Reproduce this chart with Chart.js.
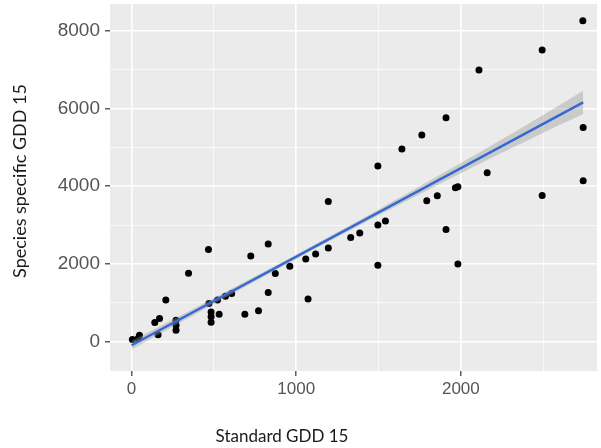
<!DOCTYPE html>
<html>
<head>
<meta charset="utf-8">
<script src="https://cdn.jsdelivr.net/npm/chart.js@4"></script>
<style>
  body { margin: 0; background: #fff; }
</style>
</head>
<body>
<canvas id="gdd-chart" width="601" height="448"></canvas>
<script>
// observations: standard GDD 15 vs species specific GDD 15
const standardGdd = [2741, 2494, 2110, 2743, 1910, 1763, 1642, 1496, 2160, 2743, 2494, 1967, 1982, 1857, 1793,
  1331, 1386, 1496, 1542, 1910, 1496, 1982, 1195, 1195, 1118, 1058, 961, 873, 830, 724, 830, 1072, 771, 688,
  467, 346, 208, 170, 141, 161, 270, 270, 270, 48, 40, 5, 470, 522, 570, 608, 483, 483, 483, 532];
const speciesGdd = [8263, 7508, 6992, 5515, 5763, 5317, 4956, 4518, 4345, 4139, 3763, 3959, 3985, 3753, 3625,
  2680, 2799, 3005, 3108, 2887, 1966, 2000, 3607, 2410, 2258, 2129, 1941, 1752, 2515, 2202, 1263, 1098, 794, 704,
  2371, 1760, 1068, 593, 490, 175, 549, 420, 291, 162, 77, 52, 983, 1073, 1167, 1237, 763, 640, 495, 704];

// fitted line and its confidence band
const fitX = [0, 2743];
const fitY = [-95, 6160];
const bandX = [0, 500, 1000, 1500, 2000, 2500, 2743];
const bandLow = [-205, 965, 2125, 3251, 4336, 5376, 5860];
const bandHigh = [15, 1125, 2245, 3401, 4596, 5836, 6460];

// grid / tick positions
const xGrid = [0, 500, 1000, 1500, 2000, 2500];
const xMajor = [0, 1000, 2000];
const yGrid = [0, 1000, 2000, 3000, 4000, 5000, 6000, 7000, 8000];
const yMajor = [0, 2000, 4000, 6000, 8000];

const toPoints = (xs, ys) => xs.map((x, i) => ({ x: x, y: ys[i] }));

const panelBg = {
  id: 'panelBg',
  beforeDraw(chart) {
    const a = chart.chartArea;
    const c = chart.ctx;
    c.save();
    c.fillStyle = '#ebebeb';
    c.fillRect(a.left, a.top, a.right - a.left, a.bottom - a.top);
    c.restore();
  }
};

// axis titles sit a bit off the panel centre in the original
const axisTitles = {
  id: 'axisTitles',
  afterDraw(chart) {
    const c = chart.ctx;
    c.save();
    c.fillStyle = '#1a1a1a';
    c.textAlign = 'center';
    c.textBaseline = 'middle';
    c.font = '17px Lato';
    c.fillText('Standard GDD 15', 282, 437);
    c.font = '18px Lato';
    c.translate(20, 181);
    c.rotate(-Math.PI / 2);
    c.fillText('Species specific GDD 15', 0, 0);
    c.restore();
  }
};

function gridStyle(major) {
  return {
    color: '#ffffff',
    lineWidth: ctx => major.includes(ctx.tick.value) ? 1.6 : 0.7,
    tickColor: ctx => major.includes(ctx.tick.value) ? '#333333' : 'rgba(0,0,0,0)',
    tickWidth: 1.2,
    tickLength: 5,
    drawTicks: true
  };
}

function noPad(s) {
  s.paddingTop = 0;
  s.paddingBottom = 0;
  s.paddingLeft = 0;
  s.paddingRight = 0;
}

new Chart(document.getElementById('gdd-chart').getContext('2d'), {
  type: 'scatter',
  data: {
    datasets: [
      {
        label: 'fit',
        data: toPoints(fitX, fitY),
        showLine: true,
        borderColor: '#3568d0',
        borderWidth: 2.5,
        pointRadius: 0,
        fill: false
      },
      {
        label: 'band upper',
        data: toPoints(bandX, bandHigh),
        showLine: true,
        borderWidth: 0,
        borderColor: 'rgba(0,0,0,0)',
        backgroundColor: 'rgba(153,153,153,0.4)',
        pointRadius: 0,
        tension: 0.3,
        fill: '+1'
      },
      {
        label: 'band lower',
        data: toPoints(bandX, bandLow),
        showLine: true,
        borderWidth: 0,
        borderColor: 'rgba(0,0,0,0)',
        pointRadius: 0,
        tension: 0.3,
        fill: false
      },
      {
        label: 'observations',
        data: toPoints(standardGdd, speciesGdd),
        backgroundColor: '#000000',
        borderWidth: 0,
        pointRadius: 3.5
      }
    ]
  },
  options: {
    responsive: false,
    animation: false,
    layout: { padding: { top: 4, left: 0, right: 0, bottom: 0 } },
    plugins: {
      legend: { display: false },
      tooltip: { enabled: false }
    },
    scales: {
      x: {
        type: 'linear',
        min: -131,
        max: 2827,
        afterBuildTicks: s => { s.ticks = xGrid.map(v => ({ value: v })); },
        afterFit: s => { s.height = 77; noPad(s); },
        grid: gridStyle(xMajor),
        border: { display: false },
        ticks: {
          padding: 3,
          color: '#555555',
          font: { family: 'Liberation Sans', size: 17 },
          maxRotation: 0,
          callback: v => xMajor.includes(v) ? String(v) : ''
        }
      },
      y: {
        type: 'linear',
        min: -758,
        max: 8693,
        afterBuildTicks: s => { s.ticks = yGrid.map(v => ({ value: v })); },
        afterFit: s => { s.width = 110; noPad(s); },
        grid: gridStyle(yMajor),
        border: { display: false },
        ticks: {
          padding: 5,
          color: '#555555',
          font: { family: 'Liberation Sans', size: 19 },
          callback: v => yMajor.includes(v) ? String(v) : ''
        }
      }
    }
  },
  plugins: [panelBg, axisTitles]
});
</script>
</body>
</html>
